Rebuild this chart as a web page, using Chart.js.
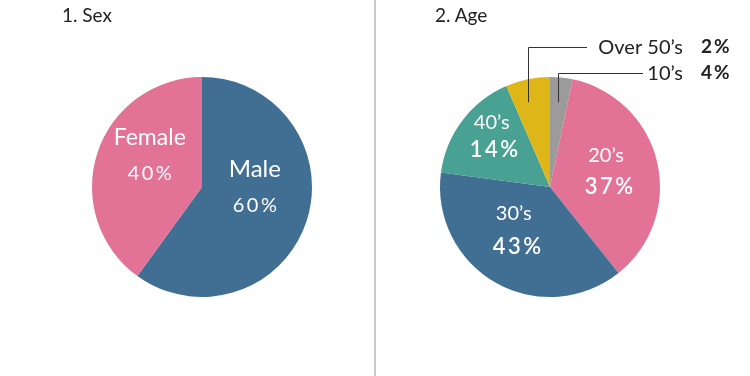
<!DOCTYPE html>
<html>
<head>
<meta charset="utf-8">
<script src="https://cdn.jsdelivr.net/npm/chart.js@4.4.1/dist/chart.umd.min.js"></script>
<style>
  html, body { margin: 0; padding: 0; background: #fff; }
  body { width: 750px; height: 376px; position: relative; overflow: hidden; font-family: Lato, "Noto Sans", sans-serif; }
  .panel { position: absolute; top: 0; width: 375px; height: 376px; }
  .title { position: absolute; top: 3px; font-size: 19px; color: #222; }
  .divider { position: absolute; left: 374px; top: 0; width: 2px; height: 376px; background: #c8c8c8; }
</style>
</head>
<body>
<div class="panel" style="left:0"><canvas id="sexChart" width="375" height="376"></canvas></div>
<div class="panel" style="left:375px"><canvas id="ageChart" width="375" height="376"></canvas></div>
<div class="divider"></div>
<div class="title" style="left:62px">1. Sex</div>
<div class="title" style="left:435px">2. Age</div>
<script>
  // data
  const sexLabels = ["Male", "Female"];
  const sexValues = [60, 40];
  const sexPctText = ["60%", "40%"];

  const ageLabels = ["10’s", "20’s", "30’s", "40’s", "Over 50’s"];
  // slice sizes as drawn in the picture
  const ageValues = [3.3, 36, 37.8, 16.4, 6.5];
  const agePctText = ["4%", "37%", "43%", "14%", "2%"];

  const sexColors = ["#416f93", "#e27296"];
  const ageColors = ["#9b9b9b", "#e27296", "#416f93", "#48a192", "#dfb617"];

  // label placement, relative to pie center in units of radius
  const sexLabelPos = [
    { name: [0.48, -0.16], pct: [0.48, 0.165], nameSize: 24, pctSize: 20, pctWeight: "400" },
    { name: [-0.475, -0.445], pct: [-0.475, -0.125], nameSize: 23, pctSize: 20, pctWeight: "400" }
  ];
  const ageLabelPos = [
    null,
    { name: [0.51, -0.29], pct: [0.535, 0.0], nameSize: 20, pctSize: 22, pctWeight: "600" },
    { name: [-0.33, 0.245], pct: [-0.3, 0.545], nameSize: 20, pctSize: 22, pctWeight: "600" },
    { name: [-0.53, -0.59], pct: [-0.51, -0.335], nameSize: 20, pctSize: 22, pctWeight: "600" },
    null
  ];
  // callouts: leader x (rel r), leader bottom y (rel r), row y (rel r), line end x (px from center)
  const ageCallouts = [
    { idx: 0, lx: 0.073, ly: -0.77, ry: -1.035, endX: 93 },
    { idx: 4, lx: -0.2, ly: -0.77, ry: -1.27, endX: 37 }
  ];

  function spaced(ctx, text, x, y, spacing) {
    if ("letterSpacing" in ctx) {
      ctx.letterSpacing = spacing + "px";
      ctx.fillText(text, x + spacing / 2, y);
      ctx.letterSpacing = "0px";
    } else {
      ctx.fillText(text, x, y);
    }
  }

  const insideLabels = {
    id: "insideLabels",
    afterDatasetsDraw(chart, args, opts) {
      const ctx = chart.ctx;
      const arc = chart.getDatasetMeta(0).data[0];
      const cx = arc.x, cy = arc.y, r = arc.outerRadius;
      const names = chart.data.labels;
      ctx.save();
      ctx.fillStyle = "#ffffff";
      ctx.textAlign = "center";
      ctx.textBaseline = "middle";
      opts.pos.forEach((p, i) => {
        if (!p) return;
        ctx.font = `400 ${p.nameSize}px Lato, "Noto Sans", sans-serif`;
        ctx.fillText(names[i], cx + p.name[0] * r, cy + p.name[1] * r);
        ctx.font = `${p.pctWeight} ${p.pctSize}px Lato, "Noto Sans", sans-serif`;
        spaced(ctx, opts.pct[i], cx + p.pct[0] * r, cy + p.pct[1] * r, 2.5);
      });

      (opts.callouts || []).forEach((c) => {
        const x0 = cx + c.lx * r;
        const yb = cy + c.ly * r;
        const yr = cy + c.ry * r;
        ctx.strokeStyle = "#333";
        ctx.lineWidth = 1;
        ctx.beginPath();
        ctx.moveTo(Math.round(x0) + 0.5, yb);
        ctx.lineTo(Math.round(x0) + 0.5, Math.round(yr) + 0.5);
        ctx.lineTo(cx + c.endX, Math.round(yr) + 0.5);
        ctx.stroke();
        ctx.fillStyle = "#222";
        ctx.textAlign = "right";
        ctx.font = `400 20px Lato, "Noto Sans", sans-serif`;
        ctx.fillText(names[c.idx], cx + 133, yr);
        ctx.textAlign = "left";
        ctx.font = `700 19px Lato, "Noto Sans", sans-serif`;
        spaced(ctx, opts.pct[c.idx], cx + 150, yr, 2);
      });
      ctx.restore();
    }
  };

  function makePie(id, labels, values, colors, pos, pct, callouts, pad) {
    return new Chart(document.getElementById(id), {
      type: "pie",
      data: {
        labels,
        datasets: [{ data: values, backgroundColor: colors, borderWidth: 0 }]
      },
      options: {
        responsive: false,
        animation: false,
        layout: { padding: pad },
        plugins: {
          legend: { display: false },
          tooltip: { enabled: false },
          insideLabels: { pos, pct, callouts }
        }
      },
      plugins: [insideLabels]
    });
  }

  makePie("sexChart", sexLabels, sexValues, sexColors, sexLabelPos, sexPctText, [],
    { left: 92, right: 63, top: 77, bottom: 79 });
  makePie("ageChart", ageLabels, ageValues, ageColors, ageLabelPos, agePctText, ageCallouts,
    { left: 65, right: 90, top: 77, bottom: 79 });
</script>
</body>
</html>
